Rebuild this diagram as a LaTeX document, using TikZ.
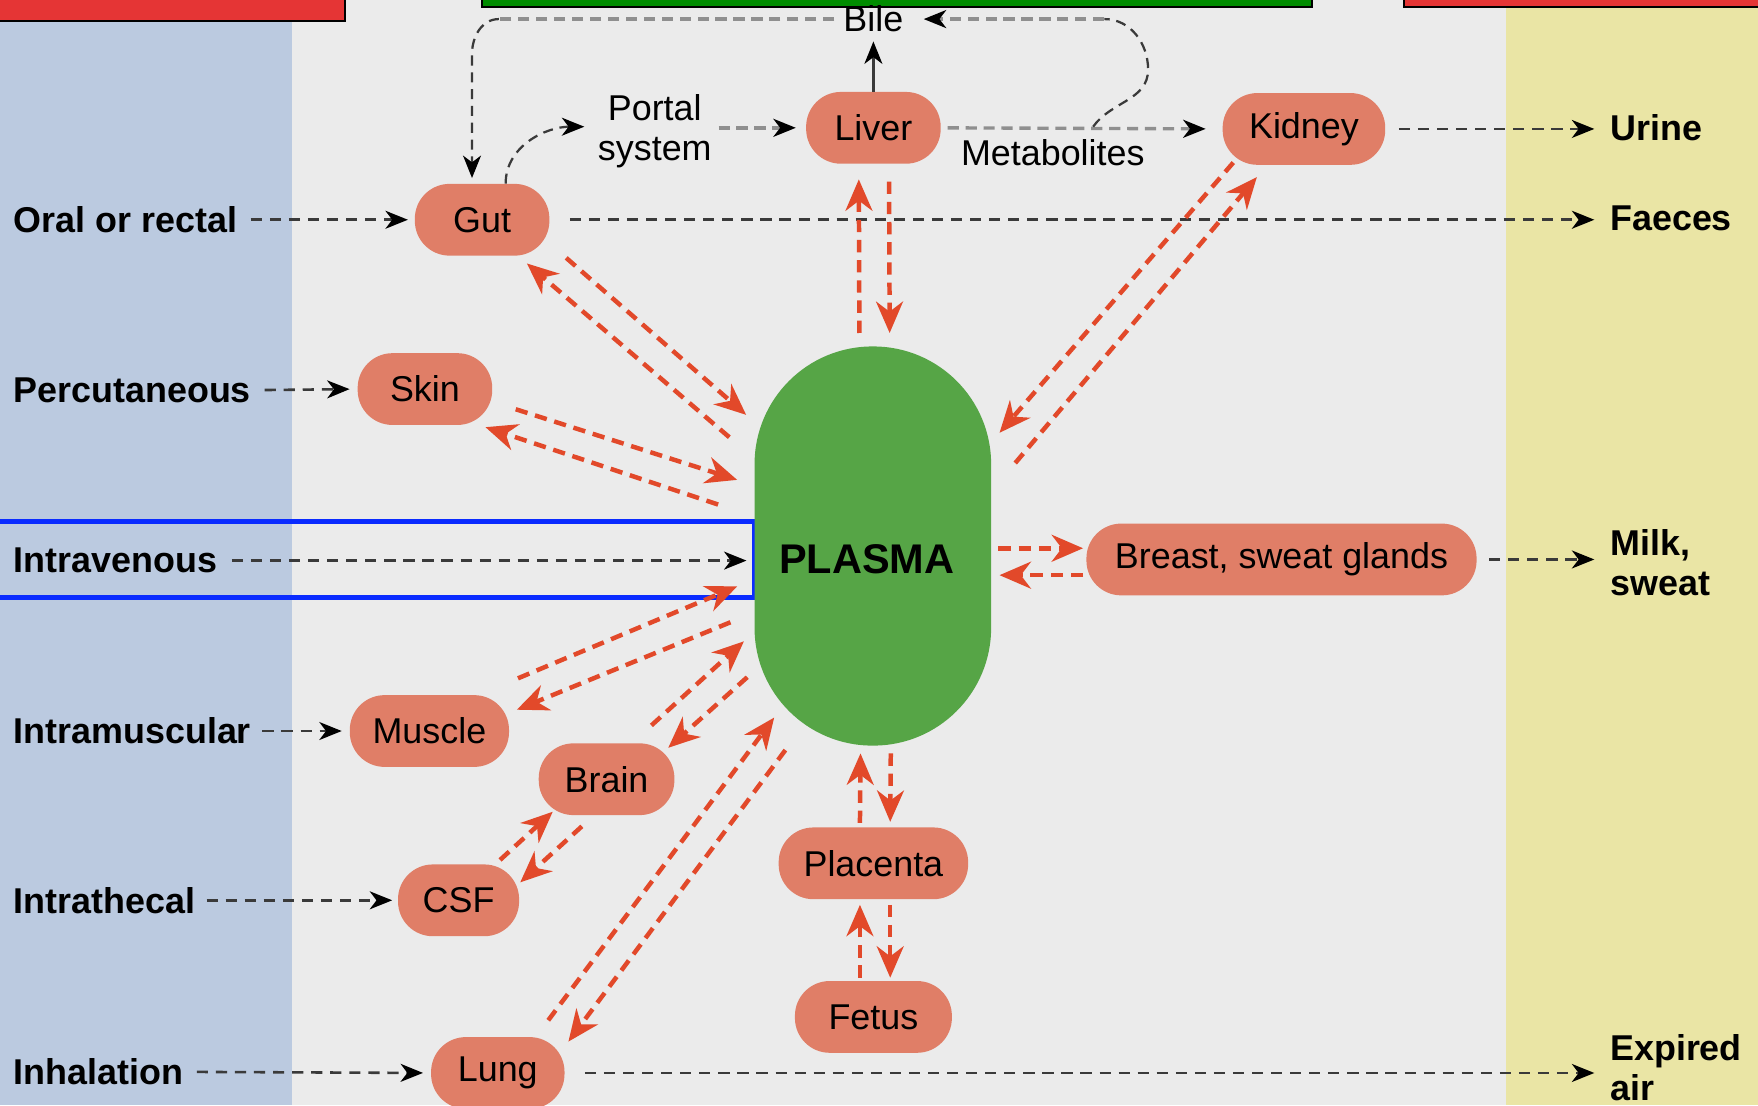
\documentclass[tikz,border=0pt]{standalone}
\usepackage{fontspec}
\setmainfont{Liberation Sans}
\usetikzlibrary{arrows.meta,calc}
\definecolor{bggray}{HTML}{EBEBEB}
\definecolor{bandblue}{HTML}{BBCAE0}
\definecolor{bandyellow}{HTML}{EAE5A5}
\definecolor{salmon}{HTML}{E07E67}
\definecolor{plasmagreen}{HTML}{56A546}
\definecolor{redarrow}{HTML}{E2492A}
\definecolor{topred}{HTML}{E53535}
\definecolor{topgreen}{HTML}{008C00}
\definecolor{ivblue}{HTML}{0A2BFF}
\definecolor{dashgray}{HTML}{8F8F8F}
\definecolor{dashdark}{HTML}{3A3A3A}
\begin{document}
\begin{tikzpicture}[x=1pt,y=-1pt,
  organ/.style={fill=salmon, rounded corners=31pt, minimum height=64pt, inner sep=0pt, font=\fontsize{32}{36}\selectfont},
  routelbl/.style={font=\bfseries\fontsize{32}{36}\selectfont, inner sep=0pt, anchor=west, align=left},
  lbl/.style={font=\fontsize{32}{36}\selectfont, inner sep=0pt, align=center},
  blackhead/.style={-{Stealth[length=20pt,width=16pt,inset=6pt,black]}},
  blk/.style={draw=dashdark, line width=2.3pt, dash pattern=on 10pt off 7pt, blackhead},
  thinblack/.style={draw=dashdark, line width=2pt, dash pattern=on 9pt off 6pt},
  grayd/.style={draw=dashgray, line width=3pt, dash pattern=on 10pt off 6pt},
  redarr/.style={draw=redarrow, line width=4pt, dash pattern=on 11pt off 7pt, -{Stealth[length=28pt,width=24pt,inset=9pt]}}
]
\useasboundingbox (0,0) rectangle (1568,986);
% background
\fill[bggray] (0,0) rectangle (1568,986);
\fill[bandblue] (0,0) rectangle (260,986);
\fill[bandyellow] (1343,0) rectangle (1568,986);
% top bars
\filldraw[fill=topred, draw=black, line width=1.5pt] (-2,-2) rectangle (308,19);
\filldraw[fill=topgreen, draw=black, line width=1.5pt] (430,-2) rectangle (1170,6);
\filldraw[fill=topred, draw=black, line width=1.5pt] (1252,-2) rectangle (1570,6);
% IV highlight box
\draw[ivblue, line width=4pt] (-3,465) rectangle (673,533);

% plasma
\node[fill=plasmagreen, rounded corners=105pt, minimum width=211pt, minimum height=356pt, inner sep=0pt] (plasma) at (778.5,487) {};
\node[font=\bfseries\fontsize{37}{40}\selectfont, inner sep=0pt] (plasmatxt) at (773,499) {PLASMA};

% organs
\node[organ, minimum width=120pt] (gut) at (430,196) {Gut};
\node[organ, minimum width=120pt] (skin) at (379,347) {Skin};
\node[organ, minimum width=120pt] (liver) at (779,114) {Liver};
\node[organ, minimum width=145pt] (kidney) at (1163,115) {Kidney};
\node[organ, minimum width=348pt] (breast) at (1143,499) {Breast, sweat glands};
\node[organ, minimum width=142pt] (muscle) at (383,652) {Muscle};
\node[organ, minimum width=121pt] (brain) at (541,695) {Brain};
\node[organ, minimum width=108pt] (csf) at (409,803) {CSF};
\node[organ, minimum width=169pt] (placenta) at (779,770) {Placenta};
\node[organ, minimum width=140pt] (fetus) at (779,907) {Fetus};
\node[organ, minimum width=119pt] (lung) at (444,957) {Lung};

% route labels
\node[routelbl] (oral) at (12,196) {Oral or rectal};
\node[routelbl] (perc) at (12,348) {Percutaneous};
\node[routelbl] (iv) at (12,500) {Intravenous};
\node[routelbl] (im) at (12,652) {Intramuscular};
\node[routelbl] (it) at (12,803) {Intrathecal};
\node[routelbl] (inh) at (12,956) {Inhalation};
\node[routelbl] (urine) at (1436,114) {Urine};
\node[routelbl] (faeces) at (1436,195) {Faeces};
\node[routelbl] (milk) at (1436,502) {Milk,\\sweat};
\node[routelbl] (expired) at (1436,952) {Expired\\air};

% other labels
\node[lbl] (bile) at (779,17) {Bile};
\node[lbl] (portal) at (584,117) {Portal\\system};
\node[lbl] (metab) at (939,136) {Metabolites};

% entry arrows
\draw[blk, shorten <=12pt, shorten >=6pt] (oral.east) -- (gut.west);
\draw[blk, shorten <=12pt, shorten >=7pt] (perc.east) -- (skin.west);
\draw[blk, shorten <=13pt, shorten >=7pt] (iv.east) -- (iv.east -| plasma.west);
\draw[blk, shorten <=10pt, shorten >=7pt] (im.east) -- (muscle.west);
\draw[blk, shorten <=10pt, shorten >=5pt] (it.east) -- (csf.west);
\draw[blk, shorten <=12pt, shorten >=7pt] (inh.east) -- (lung.west);
% exit arrows
\draw[blk, shorten <=12pt, shorten >=14pt] (kidney.east) -- (kidney.east -| urine.west);
\draw[blk, shorten <=18pt, shorten >=14pt] (gut.east) -- (gut.east -| faeces.west);
\draw[blk, shorten <=11pt, shorten >=14pt] (breast.east) -- (breast.east -| milk.west);
\draw[blk, shorten <=18pt, shorten >=14pt] (lung.east) -- (lung.east -| expired.west);

% portal / liver / bile
\draw[thinblack, blackhead] ($(gut.north)+(21,0)$) to[out=90,in=180] ($(portal.west)+(-12,-4)$);
\draw[grayd, blackhead, shorten <=6pt, shorten >=9pt] (portal.east |- liver.west) -- (liver.west);
\draw[grayd, blackhead, shorten <=6pt, shorten >=15pt] (liver.east) -- (kidney.west);
\draw[draw=dashdark, line width=2pt, blackhead, shorten >=8pt] (liver.north) -- (bile.south);
\coordinate (metstart) at (975,113);
\coordinate (loopRa) at (1024,62);
\coordinate (loopRb) at (985,17);
\draw[thinblack] (metstart) to[out=55,in=-90] (loopRa) to[out=90,in=0] (loopRb);
\draw[grayd, blackhead, shorten >=18pt] (loopRb) -- (bile.east);
\coordinate (loopLa) at (445,17);
\coordinate (loopLb) at (421,48);
\draw[grayd, shorten <=8pt] (bile.west) -- (loopLa);
\draw[thinblack, blackhead, shorten >=5pt] (loopLa) to[out=180,in=90] (loopLb) -- (loopLb |- gut.north);

% red exchange arrows
% liver
\draw[redarr] ($(plasma.center)+(-12,-190)$) -- ($(liver.center)+(-13,46)$);
\draw[redarr] ($(liver.center)+(14,48)$) -- ($(plasma.center)+(15,-190)$);
% gut
\draw[redarr] ($(plasma.center)+(-128,-97)$) -- ($(gut.center)+(40,39)$);
\draw[redarr] ($(gut.center)+(75,34)$) -- ($(plasma.center)+(-113,-117)$);
% skin
\draw[redarr] ($(skin.center)+(81,18)$) -- ($(plasma.center)+(-121,-59)$);
\draw[redarr] ($(plasma.center)+(-138,-37)$) -- ($(skin.center)+(54,34)$);
% kidney
\draw[redarr] ($(kidney.center)+(-63,30)$) -- ($(plasma.center)+(113,-101)$);
\draw[redarr] ($(plasma.center)+(127,-74)$) -- ($(kidney.center)+(-42,43)$);
% breast
\draw[redarr] ($(plasma.center)+(112,2)$) -- ($(breast.center)+(-177,-10)$);
\draw[redarr] ($(breast.center)+(-177,14)$) -- ($(plasma.center)+(113,26)$);
% muscle
\draw[redarr] ($(muscle.center)+(79,-47)$) -- ($(plasma.center)+(-121,36)$);
\draw[redarr] ($(plasma.center)+(-127,68)$) -- ($(muscle.center)+(78,-19)$);
% brain
\draw[redarr] ($(brain.center)+(40,-48)$) -- ($(plasma.center)+(-115,85)$);
\draw[redarr] ($(plasma.center)+(-112,117)$) -- ($(brain.center)+(55,-28)$);
% csf - brain
\draw[redarr] ($(csf.center)+(37,-36)$) -- ($(brain.center)+(-48,29)$);
\draw[redarr] ($(brain.center)+(-22,42)$) -- ($(csf.center)+(55,-16)$);
% lung
\draw[redarr] ($(lung.center)+(45,-47)$) -- ($(plasma.center)+(-88,153)$);
\draw[redarr] ($(plasma.center)+(-78,182)$) -- ($(lung.center)+(63,-28)$);
% placenta
\draw[redarr] ($(placenta.center)+(-12,-36)$) -- ($(plasma.center)+(-11,185)$);
\draw[redarr] ($(plasma.center)+(16,185)$) -- ($(placenta.center)+(15,-37)$);
% fetus
\draw[redarr] ($(fetus.center)+(-12,-35)$) -- ($(placenta.center)+(-12,37)$);
\draw[redarr] ($(placenta.center)+(15,37)$) -- ($(fetus.center)+(15,-35)$);
\end{tikzpicture}
\end{document}
